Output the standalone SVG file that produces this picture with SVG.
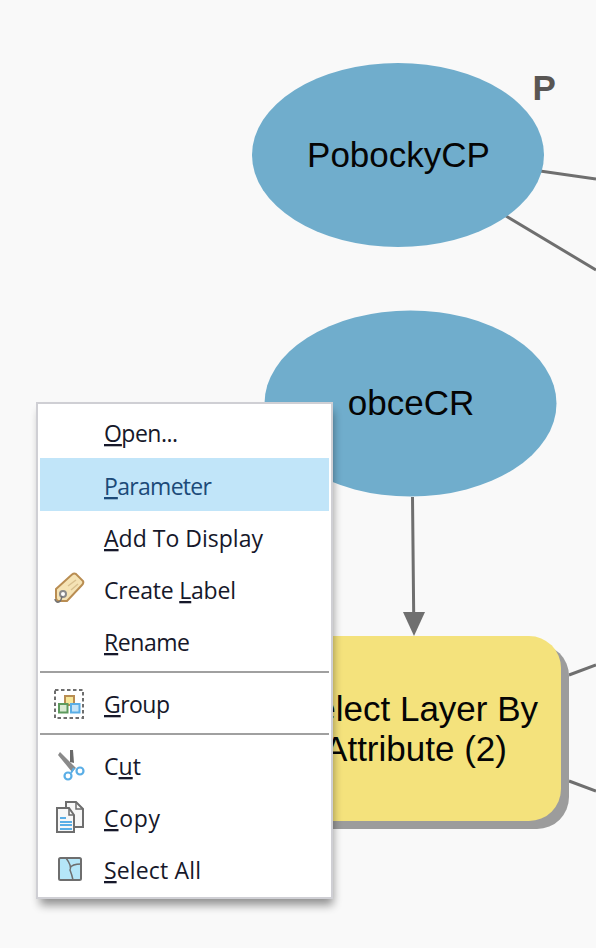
<svg xmlns="http://www.w3.org/2000/svg" width="596" height="948" viewBox="0 0 596 948">
<style>
.ell{fill:#70adcc}
.nt{font-family:"Liberation Sans",Arial,sans-serif;font-size:35px;fill:#050505;text-anchor:middle}
.conn{stroke:#6f6f6f;stroke-width:3;fill:none}
.mi{font-family:"Open Sans","Noto Sans",sans-serif;font-size:23px;fill:#16182a}
.u{text-decoration:underline}
.sep{stroke:#a0a0a0;stroke-width:2}
.ig{fill:none;stroke:#6e6e6e;stroke-width:1.500}
</style>
<defs>
<filter id="sh" x="-10%" y="-10%" width="120%" height="120%"><feGaussianBlur stdDeviation="5"/></filter>
</defs>
<rect id="bg" width="596" height="948" fill="#f9f9f9"/>
<g id="connectors">
<path class="conn" d="M540 171L596 179M506 216L596 270M569 675L596 665M569 781L596 791M412.500 497L413.700 614"/>
<polygon points="403,612 425,612 414,636" fill="#6f6f6f"/>
</g>
<g id="node-pobocky">
<ellipse class="ell" cx="398" cy="155" rx="146" ry="92"/>
<text class="nt" x="398.500" y="167">PobockyCP</text>
<text x="532.500" y="100" font-family="'Liberation Sans',Arial,sans-serif" font-size="35" font-weight="700" fill="#595654">P</text>
</g>
<g id="node-obce">
<ellipse class="ell" cx="410.500" cy="403.500" rx="146" ry="93"/>
<text class="nt" x="411" y="415">obceCR</text>
</g>
<g id="node-select">
<rect x="275" y="644" width="294" height="185" rx="32" fill="#9c9c9c"/>
<rect x="267" y="636" width="294" height="185" rx="32" fill="#f4e27c"/>
<text class="nt" x="415.500" y="721">Select Layer By</text>
<text class="nt" x="415.500" y="761">Attribute (2)</text>
</g>
<g id="context-menu">
<rect x="40" y="411" width="293" height="494" fill="#000" opacity=".42" filter="url(#sh)"/>
<rect x="37" y="403" width="295" height="495" fill="#fff" stroke="#cfcfd4" stroke-width="2"/>
<rect x="40" y="458" width="289" height="53" fill="#c1e5f9"/>
<line class="sep" x1="40" y1="672" x2="329" y2="672"/>
<line class="sep" x1="40" y1="734" x2="329" y2="734"/>
<text class="mi" x="104" y="442" textLength="74"><tspan class="u">O</tspan>pen...</text>
<text class="mi" x="104" y="495" textLength="108" style="fill:#1c4a78"><tspan class="u">P</tspan>arameter</text>
<text class="mi" x="104" y="547" textLength="159"><tspan class="u">A</tspan>dd To Display</text>
<text class="mi" x="104" y="599" textLength="132">Create <tspan class="u">L</tspan>abel</text>
<text class="mi" x="104" y="651" textLength="86"><tspan class="u">R</tspan>ename</text>
<text class="mi" x="104" y="713" textLength="66"><tspan class="u">G</tspan>roup</text>
<text class="mi" x="104" y="775" textLength="37">C<tspan class="u">u</tspan>t</text>
<text class="mi" x="104" y="827" textLength="56"><tspan class="u">C</tspan>opy</text>
<text class="mi" x="104" y="879" textLength="97"><tspan class="u">S</tspan>elect All</text>
<g id="icon-label">
<path d="M56 589L72 574.500Q74 573 76 574L83 581Q84 583 82 585L67 601L58 601Q56 600 56 598Z" fill="#f5e3b5" stroke="#b98d52" stroke-width="2"/>
<path d="M68 586L76 580M71 590L78 584" stroke="#d9c08f" stroke-width="1.500"/>
<circle cx="63" cy="594" r="3" fill="#fff" stroke="#8a8a8a" stroke-width="2"/>
<path d="M62 596Q61 603 57 602Q55 601 55 599" fill="none" stroke="#707070" stroke-width="1.500"/>
</g>
<g id="icon-group">
<rect x="55" y="690" width="28" height="28" fill="none" stroke="#6e6e6e" stroke-width="2" stroke-dasharray="3.500 2.500"/>
<rect x="65" y="696" width="9" height="9" fill="#f6e79a" stroke="#b98d52" stroke-width="2"/>
<rect x="59" y="704" width="8.500" height="8.500" fill="#d9ead3" stroke="#5d9a5d" stroke-width="2"/>
<rect x="71" y="704" width="8.500" height="8.500" fill="#c5e4f7" stroke="#5aaee6" stroke-width="2"/>
</g>
<g id="icon-cut">
<path d="M58 755L60 752L76 768L72 772Z" fill="#8a8a8a"/>
<path d="M70 750L73 750L74 763L70 762Z" fill="#6a6a6a"/>
<circle cx="68" cy="776" r="3.500" fill="none" stroke="#5aaee6" stroke-width="2.200"/>
<circle cx="80" cy="771" r="3.500" fill="none" stroke="#5aaee6" stroke-width="2.200"/>
<path d="M71 773L74 768" stroke="#5aaee6" stroke-width="2"/>
</g>
<g id="icon-copy">
<path d="M66 818V802H76L83 809V827H73" fill="#f7f7f7" stroke="#6e6e6e" stroke-width="2"/>
<path d="M57 811V832H74V815L69 808H57Z" fill="#f7f7f7" stroke="#6e6e6e" stroke-width="2"/>
<path d="M60 818H66M60 822H72M60 825H72M60 829H72" stroke="#5aaee6" stroke-width="2"/>
<path d="M76 802V809H83M69 808V815H74" fill="none" stroke="#6e6e6e" stroke-width="1.500"/>
</g>
<g id="icon-select">
<rect x="59" y="858" width="22" height="22" rx="1.500" fill="#b5e6f8" stroke="#6e6e6e" stroke-width="2"/>
<path d="M66 858Q72 866 70 870Q72 875 73 880M70 868Q72 864 81 864" class="ig"/>
</g>
</g>
</svg>
